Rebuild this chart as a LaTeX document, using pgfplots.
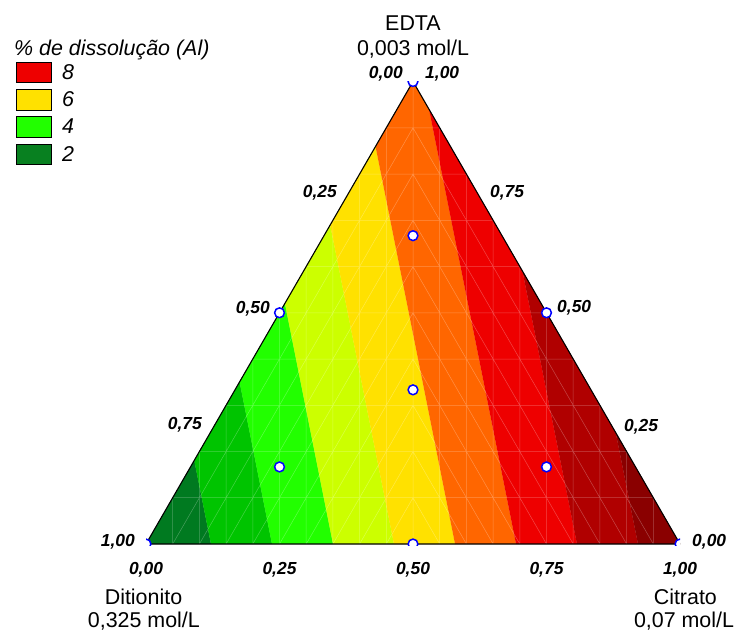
\documentclass[border=0pt]{standalone}
\usepackage{fontspec}
\setmainfont{Liberation Sans}
\usepackage{pgfplots}
\pgfplotsset{compat=1.18}
\definecolor{c0}{RGB}{0,122,32}
\definecolor{c1}{RGB}{0,196,0}
\definecolor{c2}{RGB}{34,255,0}
\definecolor{c3}{RGB}{204,255,0}
\definecolor{c4}{RGB}{255,225,0}
\definecolor{c5}{RGB}{255,102,0}
\definecolor{c6}{RGB}{238,0,0}
\definecolor{c7}{RGB}{176,0,0}
\definecolor{c8}{RGB}{138,0,0}
\definecolor{lg2}{RGB}{8,128,32}
\newcommand\lbl{\fontsize{21.5}{25}\selectfont}
\newcommand\tkl{\fontsize{17.5}{20}\selectfont\bfseries\itshape}
\begin{document}
\begin{tikzpicture}
\begin{axis}[
  x=534bp, y=534bp,
  xmin=0, xmax=1, ymin=-0.002, ymax=0.8665,
  hide axis,
  clip mode=individual,
  clip marker paths=true,
  legend style={at={(axis cs:-0.2440,0.9032)}, anchor=north west,
    draw=none, fill=none, inner sep=0pt, outer sep=0pt,
    row sep=6.2bp, column sep=10.5bp,
    font=\lbl\itshape,
    nodes={inner sep=0pt, outer sep=0pt},
    cells={anchor=west}},
  legend image code/.code={\draw[#1, draw=black, line width=0.6bp] (0bp,-10.3bp) rectangle (35.3bp,10.3bp);},
]
% contour bands
\addplot[fill=c0, draw=c0, line width=0.3bp, forget plot] coordinates {(0,0) (0.1217,0) (0.0904,0.1566)};
\addplot[fill=c1, draw=c1, line width=0.3bp, forget plot] coordinates {(0.1217,0) (0.2360,0) (0.1753,0.3036) (0.0904,0.1566)};
\addplot[fill=c2, draw=c2, line width=0.3bp, forget plot] coordinates {(0.2360,0) (0.3502,0) (0.2601,0.4505) (0.1753,0.3036)};
\addplot[fill=c3, draw=c3, line width=0.3bp, forget plot] coordinates {(0.3502,0) (0.4644,0) (0.3449,0.5974) (0.2601,0.4505)};
\addplot[fill=c4, draw=c4, line width=0.3bp, forget plot] coordinates {(0.4644,0) (0.5787,0) (0.4298,0.7445) (0.3449,0.5974)};
\addplot[fill=c5, draw=c5, line width=0.3bp, forget plot] coordinates {(0.5787,0) (0.6929,0) (0.5301,0.8138) (0.5,0.86603) (0.4298,0.7445)};
\addplot[fill=c6, draw=c6, line width=0.3bp, forget plot] coordinates {(0.6929,0) (0.8071,0) (0.7049,0.5112) (0.5301,0.8138)};
\addplot[fill=c7, draw=c7, line width=0.3bp, forget plot] coordinates {(0.8071,0) (0.9213,0) (0.8796,0.2086) (0.7049,0.5112)};
\addplot[fill=c8, draw=c8, line width=0.3bp, forget plot] coordinates {(0.9213,0) (1,0) (0.8796,0.2086)};
% mesh lines
\addplot[white, opacity=0.28, line width=0.5bp, unbounded coords=jump, forget plot] coordinates {
(0.05,0) (0.05,0.0866) (0.05,nan)
(0.10,0) (0.10,0.1732) (0.10,nan)
(0.15,0) (0.15,0.2598) (0.15,nan)
(0.20,0) (0.20,0.3464) (0.20,nan)
(0.25,0) (0.25,0.4330) (0.25,nan)
(0.30,0) (0.30,0.5196) (0.30,nan)
(0.35,0) (0.35,0.6062) (0.35,nan)
(0.40,0) (0.40,0.6928) (0.40,nan)
(0.45,0) (0.45,0.7794) (0.45,nan)
(0.50,0) (0.50,0.8660) (0.50,nan)
(0.55,0) (0.55,0.7794) (0.55,nan)
(0.60,0) (0.60,0.6928) (0.60,nan)
(0.65,0) (0.65,0.6062) (0.65,nan)
(0.70,0) (0.70,0.5196) (0.70,nan)
(0.75,0) (0.75,0.4330) (0.75,nan)
(0.80,0) (0.80,0.3464) (0.80,nan)
(0.85,0) (0.85,0.2598) (0.85,nan)
(0.90,0) (0.90,0.1732) (0.90,nan)
(0.95,0) (0.95,0.0866) (0.95,nan)
(0.05,0.0866) (0.95,0.0866) (0.95,nan)
(0.10,0.1732) (0.90,0.1732) (0.90,nan)
(0.15,0.2598) (0.85,0.2598) (0.85,nan)
(0.20,0.3464) (0.80,0.3464) (0.80,nan)
(0.25,0.4330) (0.75,0.4330) (0.75,nan)
(0.30,0.5196) (0.70,0.5196) (0.70,nan)
(0.35,0.6062) (0.65,0.6062) (0.65,nan)
(0.40,0.6928) (0.60,0.6928) (0.60,nan)
(0.45,0.7794) (0.55,0.7794) (0.55,nan)
(0.05,0) (0.5,0.7794) (0.95,0) (0.95,nan)
(0.10,0) (0.5,0.6928) (0.90,0) (0.90,nan)
(0.15,0) (0.5,0.6062) (0.85,0) (0.85,nan)
(0.20,0) (0.5,0.5196) (0.80,0) (0.80,nan)
(0.25,0) (0.5,0.4330) (0.75,0) (0.75,nan)
(0.30,0) (0.5,0.3464) (0.70,0) (0.70,nan)
(0.35,0) (0.5,0.2598) (0.65,0) (0.65,nan)
(0.40,0) (0.5,0.1732) (0.60,0) (0.60,nan)
(0.45,0) (0.5,0.0866) (0.55,0)
};
% outline
\addplot[black, line width=1.1bp, forget plot] coordinates {(0,0) (1,0) (0.5,0.86603) (0,0) (1,0)};
% design points
\addplot[only marks, mark=*, mark size=4.9bp, forget plot,
  mark options={draw=blue, fill=white, line width=1.5bp}] coordinates {
(0.5,0.86603) (0.5,0.5774) (0.25,0.4330) (0.75,0.4330) (0.5,0.2887)
(0.25,0.1443) (0.75,0.1443) (0,0) (0.5,0) (1,0)};
% legend
\addlegendimage{fill=c6}\addlegendentry{8}
\addlegendimage{fill=c4}\addlegendentry{6}
\addlegendimage{fill=c2}\addlegendentry{4}
\addlegendimage{fill=lg2}\addlegendentry{2}
% texts
\node[anchor=base west, inner sep=0pt, font=\lbl\itshape] at (axis cs:-0.2472,0.9157) {\% de dissolução (Al)};
\node[anchor=base, inner sep=0pt, font=\lbl] at (axis cs:0.5,0.9625) {EDTA};
\node[anchor=base, inner sep=0pt, font=\lbl] at (axis cs:0.5,0.9157) {0,003 mol/L};
\node[anchor=base, inner sep=0pt, font=\lbl] at (axis cs:-0.0047,-0.1124) {Ditionito};
\node[anchor=base, inner sep=0pt, font=\lbl] at (axis cs:-0.0040,-0.1573) {0,325 mol/L};
\node[anchor=base, inner sep=0pt, font=\lbl] at (axis cs:1.0100,-0.1124) {Citrato};
\node[anchor=base, inner sep=0pt, font=\lbl] at (axis cs:1.0075,-0.1573) {0,07 mol/L};
% left edge tick labels
\node[anchor=base east, inner sep=0pt, font=\tkl] at (axis cs:0.4813,0.8708) {0,00};
\node[anchor=base east, inner sep=0pt, font=\tkl] at (axis cs:0.3577,0.6493) {0,25};
\node[anchor=base east, inner sep=0pt, font=\tkl] at (axis cs:0.2322,0.4312) {0,50};
\node[anchor=base east, inner sep=0pt, font=\tkl] at (axis cs:0.1049,0.2140) {0,75};
\node[anchor=base east, inner sep=0pt, font=\tkl] at (axis cs:-0.0206,-0.0042) {1,00};
% right edge tick labels
\node[anchor=base west, inner sep=0pt, font=\tkl] at (axis cs:0.5225,0.8708) {1,00};
\node[anchor=base west, inner sep=0pt, font=\tkl] at (axis cs:0.6442,0.6489) {0,75};
\node[anchor=base west, inner sep=0pt, font=\tkl] at (axis cs:0.7697,0.4326) {0,50};
\node[anchor=base west, inner sep=0pt, font=\tkl] at (axis cs:0.8951,0.2111) {0,25};
\node[anchor=base west, inner sep=0pt, font=\tkl] at (axis cs:1.0225,-0.0056) {0,00};
% bottom tick labels
\node[anchor=base, inner sep=0pt, font=\tkl] at (axis cs:0,-0.0562) {0,00};
\node[anchor=base, inner sep=0pt, font=\tkl] at (axis cs:0.25,-0.0562) {0,25};
\node[anchor=base, inner sep=0pt, font=\tkl] at (axis cs:0.5,-0.0562) {0,50};
\node[anchor=base, inner sep=0pt, font=\tkl] at (axis cs:0.75,-0.0562) {0,75};
\node[anchor=base, inner sep=0pt, font=\tkl] at (axis cs:1,-0.0562) {1,00};
\coordinate (bbSW) at (axis cs:-0.27341,-0.16479);
\coordinate (bbNE) at (axis cs:1.10300,1.01873);
\end{axis}
\pgfresetboundingbox
\path[use as bounding box] (bbSW) rectangle (bbNE);
\end{tikzpicture}
\end{document}
